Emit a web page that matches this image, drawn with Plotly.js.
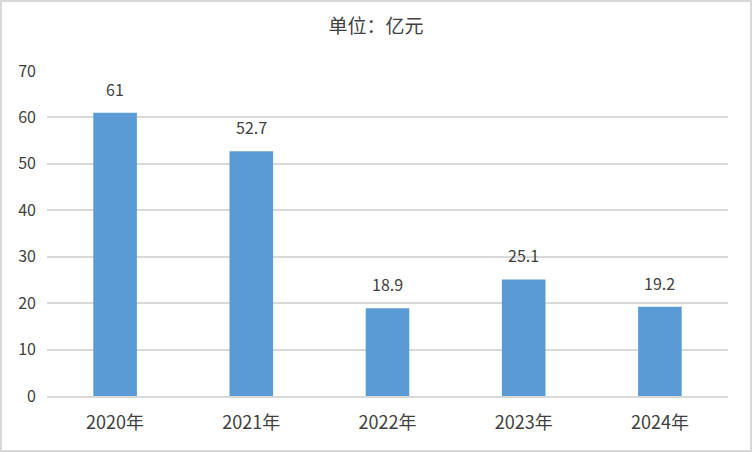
<!DOCTYPE html>
<html>
<head>
<meta charset="utf-8">
<script src="https://cdn.plot.ly/plotly-3.0.1.min.js"></script>
<style>
html,body{margin:0;padding:0;background:#fff;}
#chart{width:748px;height:448px;border:2px solid #d9d9d9;}
</style>
</head>
<body>
<div id="chart"></div>
<script>
const categories = ["2020年", "2021年", "2022年", "2023年", "2024年"];
const values = [61, 52.7, 18.9, 25.1, 19.2];
const valueLabels = ["61", "52.7", "18.9", "25.1", "19.2"];
const yTicks = [0, 10, 20, 30, 40, 50, 60, 70];

const FONT = '"Noto Sans CJK SC", "Microsoft YaHei", sans-serif';
const TXT = '#404040';

const trace = {
  type: 'bar',
  x: categories,
  y: values,
  marker: {color: '#5b9bd5'},
  hoverinfo: 'x+y'
};

const annotations = categories.map((c, i) => ({
  x: c, y: values[i], text: valueLabels[i],
  xref: 'x', yref: 'y', showarrow: false,
  yanchor: 'bottom', yshift: 10,
  font: {family: FONT, size: 16, color: TXT}
}));

const layout = {
  width: 748, height: 448,
  margin: {l: 45, r: 22, t: 69, b: 54},
  paper_bgcolor: '#ffffff', plot_bgcolor: '#ffffff',
  title: {text: '单位：亿元', x: 0.5, xanchor: 'center', y: 0.946, yanchor: 'middle',
          font: {family: FONT, size: 19, color: TXT}},
  bargap: 0.68,
  showlegend: false,
  xaxis: {
    type: 'category',
    tickfont: {family: FONT, size: 18, color: TXT},
    showgrid: false, zeroline: false,
    showline: true, linecolor: '#d9d9d9', linewidth: 2,
    ticks: '', ticklen: 0,
    ticklabelstandoff: 9
  },
  yaxis: {
    range: [0, 70],
    tickvals: yTicks,
    ticktext: yTicks.map(String),
    tickfont: {family: FONT, size: 16, color: TXT},
    showgrid: true, gridcolor: '#d9d9d9', gridwidth: 2,
    zeroline: false, showline: false, ticks: '',
    ticklabelstandoff: 10
  },
  annotations: annotations
};

Plotly.newPlot('chart', [trace], layout, {displayModeBar: false, staticPlot: true});
</script>
</body>
</html>
